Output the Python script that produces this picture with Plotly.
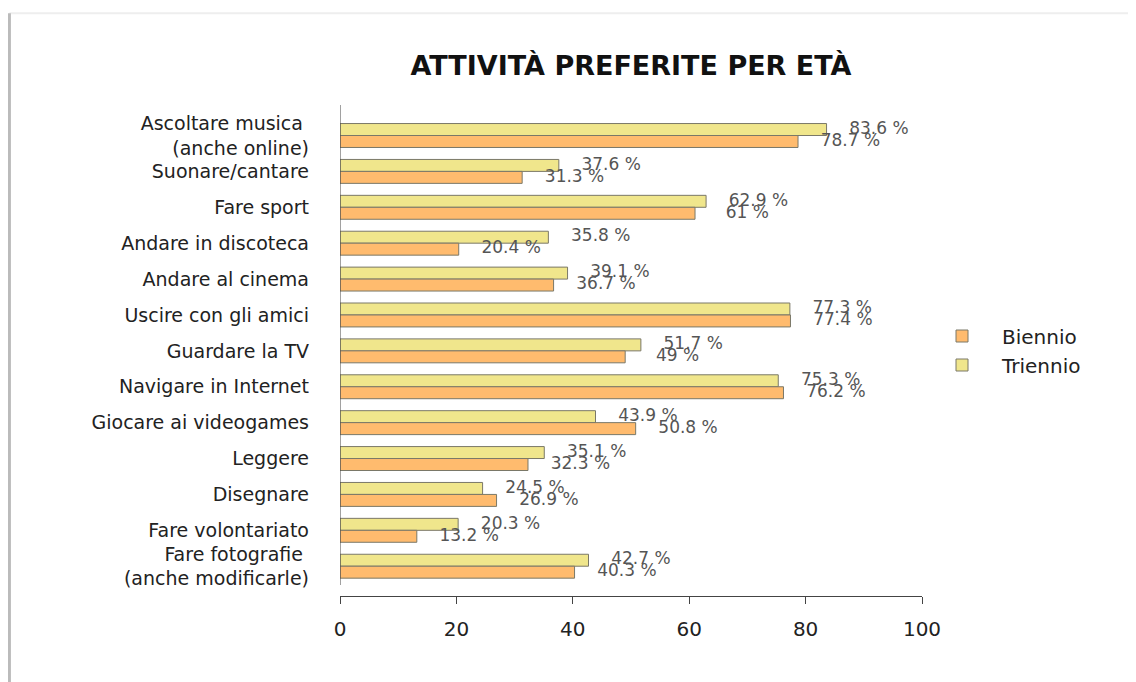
import plotly.graph_objects as go

# data
categories = [
    "Ascoltare musica\u00a0<br>(anche online)",
    "Suonare/cantare",
    "Fare sport",
    "Andare in discoteca",
    "Andare al cinema",
    "Uscire con gli amici",
    "Guardare la TV",
    "Navigare in Internet",
    "Giocare ai videogames",
    "Leggere",
    "Disegnare",
    "Fare volontariato",
    "Fare fotografie\u00a0<br>(anche modificarle)",
]
biennio = [78.7, 31.3, 61, 20.4, 36.7, 77.4, 49, 76.2, 50.8, 32.3, 26.9, 13.2, 40.3]
triennio = [83.6, 37.6, 62.9, 35.8, 39.1, 77.3, 51.7, 75.3, 43.9, 35.1, 24.5, 20.3, 42.7]
x_ticks = [0, 20, 40, 60, 80, 100]

FONT = "DejaVu Sans"
ORANGE = "#ffbb6e"
YELLOW = "#f0e68c"
EDGE = "#7a7868"
LABEL_SHIFT = 9      # value labels sit 9 units right of the bar end
BAR_W = 1 / 3

idx = list(range(len(categories)))
y_tri = [i - BAR_W / 2 for i in idx]
y_bie = [i + BAR_W / 2 for i in idx]

fig = go.Figure()

fig.add_trace(go.Bar(
    x=triennio, y=y_tri, orientation="h", width=BAR_W,
    name="Triennio", legendrank=2,
    marker=dict(color=YELLOW, line=dict(color=EDGE, width=1)),
))
fig.add_trace(go.Bar(
    x=biennio, y=y_bie, orientation="h", width=BAR_W,
    name="Biennio", legendrank=1,
    marker=dict(color=ORANGE, line=dict(color=EDGE, width=1)),
))

for vals, ys in [(triennio, y_tri), (biennio, y_bie)]:
    fig.add_trace(go.Scatter(
        x=[v + LABEL_SHIFT for v in vals], y=ys, mode="text",
        text=[f"{v:g} %" for v in vals], textposition="middle center",
        textfont=dict(family=FONT, size=17, color="#555555"),
        cliponaxis=False, showlegend=False, hoverinfo="skip",
    ))

# y axis line (stops a little above the x axis, like the original)
fig.add_shape(type="line", xref="x", yref="paper", x0=0, x1=0, y0=0.0224, y1=1,
              line=dict(color="#444444", width=1))
# faint frame of the screenshot
fig.add_shape(type="line", xref="paper", yref="paper", x0=-0.568, x1=1.4, y0=1.187, y1=1.187,
              line=dict(color="#eeeeee", width=2))
fig.add_shape(type="line", xref="paper", yref="paper", x0=-0.568, x1=-0.568, y0=1.187, y1=-0.2,
              line=dict(color="#bbbbbb", width=3))

# page body adds an 8px margin, so the figure is 8px smaller
fig.update_layout(
    width=1128, height=674,
    margin=dict(l=332, r=214, t=97, b=86),
    paper_bgcolor="white", plot_bgcolor="white",
    barmode="overlay",
    title=dict(text="<b>ATTIVITÀ PREFERITE PER ETÀ</b>", x=0.5, xref="paper",
               y=0.915, yref="container", yanchor="middle",
               font=dict(family=FONT, size=27, color="#111111")),
    legend=dict(x=1.0, y=0.5, xanchor="left", yanchor="middle",
                font=dict(family=FONT, size=20, color="#222222"),
                itemwidth=70, tracegroupgap=0),
    font=dict(family=FONT, color="#222222"),
)

fig.update_xaxes(
    range=[0, 100], tickvals=x_ticks, showgrid=False, zeroline=False,
    showline=True, linecolor="#444444", linewidth=1,
    ticks="outside", ticklen=7, tickcolor="#444444",
    ticklabelstandoff=8,
    tickfont=dict(family=FONT, size=20, color="#222222"),
)
fig.update_yaxes(
    range=[12.83, -0.85], tickvals=idx, ticktext=categories,
    showgrid=False, zeroline=False, showline=False, ticks="",
    ticklabelstandoff=30,
    tickfont=dict(family=FONT, size=19, color="#222222"),
)

fig.write_html("out.html")
